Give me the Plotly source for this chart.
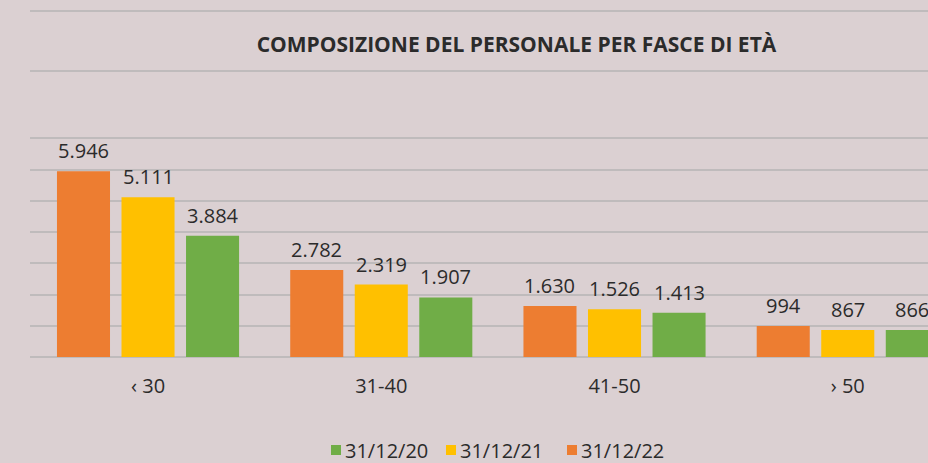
import plotly.graph_objects as go

# Age bands and headcount per reporting date
categories = ["\u2039 30", "31-40", "41-50", "\u203a 50"]
series_names = ["31/12/22", "31/12/21", "31/12/20"]
values_2022 = [5946, 2782, 1630, 994]
values_2021 = [5111, 2319, 1526, 867]
values_2020 = [3884, 1907, 1413, 866]
grid_values = [0, 1000, 2000, 3000, 4000, 5000, 6000, 7000]

colors = ["#ED7D31", "#FFC000", "#70AD47"]
bg = "#dbd0d2"
grid_color = "#bfbbbc"
text_color = "#2b2b2b"
font_family = "Open Sans"
bargap = 0.17

W, H = 928, 463
M_L, M_R, M_T, M_B = 30, 0, 107, 106
PW, PH = W - M_L - M_R, H - M_T - M_B


def px_x(px):
    return (px - M_L) / PW


def px_y(px):
    return (H - M_B - px) / PH


all_series = [values_2022, values_2021, values_2020]
x_pos = list(range(len(categories)))

fig = go.Figure()
for name, vals, col in zip(series_names, all_series, colors):
    fig.add_trace(go.Bar(x=x_pos, y=vals, name=name, marker_color=col,
                         marker_line_width=0, showlegend=False))


def fmt(v):
    return f"{v:,}".replace(",", ".")


# value labels above each bar
slot = (1 - bargap) / len(all_series)
annotations = []
for k, vals in enumerate(all_series):
    offset = (k - (len(all_series) - 1) / 2) * slot
    for i, v in enumerate(vals):
        annotations.append(dict(x=i + offset, y=v, xref="x", yref="y",
                                text=fmt(v), showarrow=False,
                                yanchor="bottom", yshift=5,
                                font=dict(size=20, color=text_color,
                                          family=font_family)))

# decorative rules around the title
shapes = []
for ypx in [11, 71]:
    shapes.append(dict(type="line", xref="paper", yref="paper", x0=0, x1=1,
                       y0=px_y(ypx), y1=px_y(ypx),
                       line=dict(color=grid_color, width=2), layer="below"))

# legend row: small square followed by the date (oldest first)
legend_left = [331, 446, 567]
for left, name, col in zip(legend_left, series_names[::-1], colors[::-1]):
    shapes.append(dict(type="rect", xref="paper", yref="paper",
                       x0=px_x(left), x1=px_x(left + 10),
                       y0=px_y(455), y1=px_y(445),
                       fillcolor=col, line=dict(width=0)))
    annotations.append(dict(x=px_x(left + 12), y=px_y(450),
                            xref="paper", yref="paper", text=name,
                            showarrow=False, xanchor="left", yanchor="middle",
                            font=dict(size=20, color=text_color,
                                      family=font_family)))

fig.update_layout(
    width=W, height=H,
    margin=dict(l=M_L, r=M_R, t=M_T, b=M_B, autoexpand=False),
    paper_bgcolor=bg, plot_bgcolor=bg,
    barmode="group", bargap=bargap, bargroupgap=0.178,
    font=dict(family=font_family, color=text_color, size=19),
    title=dict(text="<b>COMPOSIZIONE DEL PERSONALE PER FASCE DI ETÀ</b>",
               x=px_x(516.5), xref="paper",
               xanchor="center", y=1 - 45 / H, yanchor="middle",
               font=dict(size=21, color=text_color, family=font_family)),
    xaxis=dict(tickvals=x_pos, ticktext=categories, range=[-0.506, 3.344],
               showgrid=False, zeroline=False, showline=False, ticks="",
               ticklabelstandoff=15,
               tickfont=dict(size=20, color=text_color)),
    yaxis=dict(range=[0, 8000], tickvals=grid_values, showticklabels=False,
               showgrid=True, gridcolor=grid_color, gridwidth=2,
               zeroline=True, zerolinecolor=grid_color, zerolinewidth=2),
    annotations=annotations,
    shapes=shapes,
    showlegend=False,
)

fig.write_html("out.html")
